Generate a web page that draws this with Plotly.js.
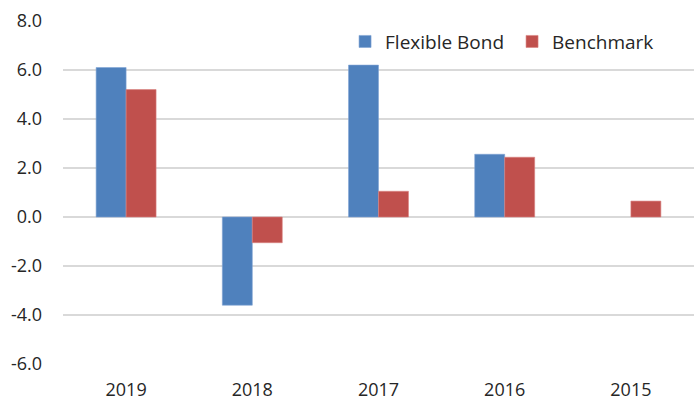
<!DOCTYPE html>
<html>
<head>
<meta charset="utf-8">
<script src="https://cdn.plot.ly/plotly-3.0.1.min.js"></script>
<style>html,body{margin:0;padding:0;background:#fff;}#chart{width:694px;height:403px;}</style>
</head>
<body>
<div id="chart"></div>
<script>
const categories = ["2019", "2018", "2017", "2016", "2015"];
const flexibleBond = [6.1, -3.6, 6.2, 2.56, null];
const benchmark = [5.2, -1.05, 1.05, 2.44, 0.65];
const yTickValues = [-6, -4, -2, 0, 2, 4, 6, 8];
const yTickLabels = ["-6.0", "-4.0", "-2.0", "0.0", "2.0", "4.0", "6.0", "8.0"];

const font = "Open Sans, Noto Sans, sans-serif";
const data = [
  {type: "bar", name: "Flexible Bond", x: categories, y: flexibleBond,
   marker: {color: "#4F81BD", line: {color: "#7FA3D3", width: 0.6}}},
  {type: "bar", name: "Benchmark", x: categories, y: benchmark,
   marker: {color: "#C0504D", line: {color: "#D98280", width: 0.6}}}
];
const layout = {
  width: 694, height: 403,
  margin: {l: 63, r: 0, t: 21, b: 39},
  paper_bgcolor: "#fff", plot_bgcolor: "#fff",
  font: {family: font, size: 18, color: "#262626"},
  barmode: "group", bargap: 0.525, bargroupgap: 0,
  showlegend: true,
  legend: {orientation: "h", x: 0.447, y: 0.94, xanchor: "left", yanchor: "middle",
           font: {family: font, size: 19, color: "#262626"}, itemwidth: 30,
           entrywidth: 122, entrywidthmode: "pixels",
           bgcolor: "rgba(0,0,0,0)", traceorder: "normal"},
  xaxis: {type: "category", showgrid: false, zeroline: false, showline: false,
          ticks: "", ticklabelstandoff: 13, tickfont: {family: font, size: 18, color: "#262626"}},
  yaxis: {range: [-6, 8], tickvals: yTickValues, ticktext: yTickLabels,
          showgrid: true, gridcolor: "#D9D9D9", gridwidth: 2,
          zeroline: true, zerolinecolor: "#D9D9D9", zerolinewidth: 2,
          showline: false, ticks: "", ticklabelstandoff: 20,
          tickfont: {family: font, size: 18, color: "#262626"}}
};
Plotly.newPlot("chart", data, layout, {displayModeBar: false, staticPlot: true});
</script>
</body>
</html>
